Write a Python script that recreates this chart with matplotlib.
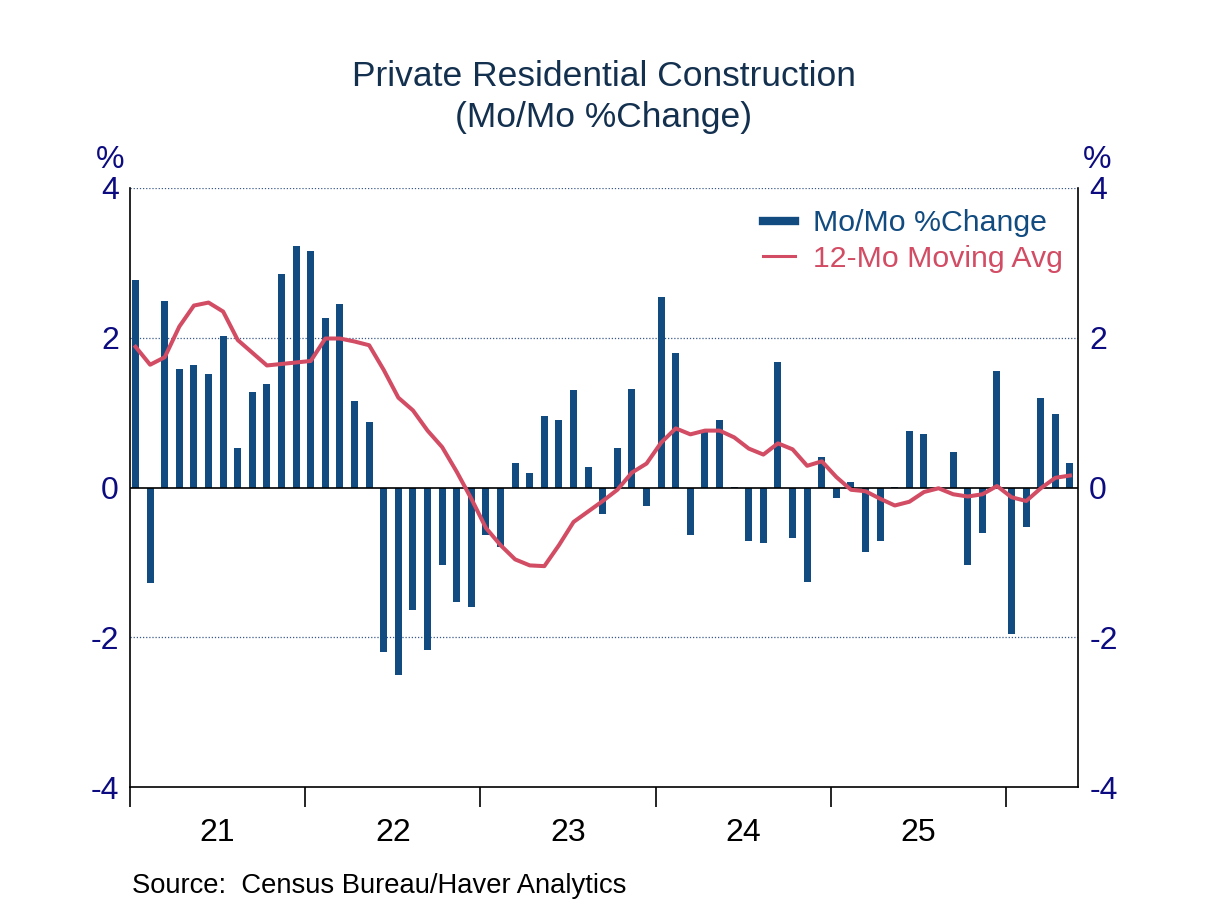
import matplotlib
matplotlib.use('Agg')
from matplotlib import pyplot as plt
from matplotlib.lines import Line2D
from matplotlib.ticker import FixedLocator, NullFormatter

plt.rcParams['font.family'] = ['Liberation Sans', 'DejaVu Sans']

# 月度数据: 2021年1月 - 2026年5月
mom_change = [
    2.77, -1.28, 2.49, 1.58, 1.63, 1.51, 2.03, 0.53, 1.27, 1.38, 2.85, 3.22,
    3.16, 2.27, 2.45, 1.16, 0.88, -2.19, -2.51, -1.63, -2.17, -1.04, -1.53, -1.60,
    -0.63, -0.79, 0.33, 0.20, 0.96, 0.90, 1.30, 0.27, -0.35, 0.53, 1.31, -0.25,
    2.54, 1.80, -0.63, 0.74, 0.90, 0.01, -0.71, -0.74, 1.67, -0.68, -1.26, 0.41,
    -0.14, 0.07, -0.86, -0.71, 0.01, 0.75, 0.72, 0.00, 0.47, -1.03, -0.61, 1.55,
    -1.95, -0.53, 1.19, 0.98, 0.33,
]
moving_avg = [
    1.88, 1.64, 1.74, 2.15, 2.43, 2.47, 2.35, 1.97, 1.80, 1.63, 1.65, 1.67,
    1.69, 1.99, 1.99, 1.95, 1.90, 1.57, 1.20, 1.03, 0.76, 0.54, 0.21, -0.15,
    -0.54, -0.77, -0.96, -1.04, -1.05, -0.77, -0.46, -0.32, -0.18, -0.03, 0.20, 0.32,
    0.60, 0.79, 0.71, 0.76, 0.76, 0.67, 0.52, 0.44, 0.59, 0.51, 0.29, 0.35,
    0.14, -0.03, -0.05, -0.15, -0.24, -0.19, -0.06, -0.01, -0.09, -0.12, -0.09, 0.02,
    -0.13, -0.18, -0.01, 0.13, 0.16,
]
year_labels = ['21', '22', '23', '24', '25']

navy = '#114b80'
red = '#d24c64'
label_col = '#0c0c80'

fig = plt.figure(figsize=(12.08, 9.06), dpi=100)
ax = fig.add_axes([0.1076, 0.1313, 0.7848, 0.6612])

x = list(range(len(mom_change)))
ax.bar(x, mom_change, width=0.48, color=navy, zorder=2)
ax.plot(x, moving_avg, color=red, lw=2.9, zorder=3)

ax.set_xlim(-0.38, 64.55)
ax.set_ylim(-4, 4)
ax.axhline(0, color='black', lw=1.2, zorder=2.5)
for yv in [4, 2, -2]:
    ax.axhline(yv, color='#3a5a8a', lw=0.9, ls=(0, (1, 1.5)), zorder=1)

# y轴
ax.set_yticks([-4, -2, 0, 2, 4])
ax.set_yticklabels(['-4', '-2', '0', '2', '4'])
ax.tick_params(axis='y', length=0, labelsize=23, labelcolor=label_col,
               left=True, right=True, labelleft=True, labelright=True, pad=8)

# x轴: 年份刻度
ticks = [12 * k - 0.38 for k in range(6)]
ax.xaxis.set_major_locator(FixedLocator(ticks))
ax.xaxis.set_major_formatter(NullFormatter())
ax.xaxis.set_minor_locator(FixedLocator([12 * k + 5.62 for k in range(5)]))
ax.set_xticklabels(year_labels, minor=True)
ax.tick_params(axis='x', which='major', length=14.5, width=1.2, direction='out')
ax.tick_params(axis='x', which='minor', length=0, labelsize=23, pad=22)

for s in ['left', 'right', 'bottom']:
    ax.spines[s].set_linewidth(1.2)
ax.spines['top'].set_visible(False)

fig.text(0.091, 0.807, '%', ha='center', va='bottom', fontsize=23, color=label_col)
fig.text(0.908, 0.807, '%', ha='center', va='bottom', fontsize=23, color=label_col)

fig.text(0.5, 0.916, 'Private Residential Construction', ha='center', va='center',
         fontsize=25.5, color='#14304f')
fig.text(0.5, 0.870, '(Mo/Mo %Change)', ha='center', va='center',
         fontsize=25.5, color='#14304f')

fig.text(0.109, 0.008, 'Source:  Census Bureau/Haver Analytics', ha='left', va='bottom',
         fontsize=19.7, color='black')

handles = [Line2D([], [], color=navy, lw=6), Line2D([], [], color=red, lw=2.2)]
leg = ax.legend(handles, ['Mo/Mo %Change', '12-Mo Moving Avg'], loc='upper right',
                bbox_to_anchor=(1.013, 1.01), frameon=False, fontsize=21.8,
                handlelength=1.05, handletextpad=0.6, labelspacing=0.25)
for txt, c in zip(leg.get_texts(), [navy, red]):
    txt.set_color(c)

fig.savefig('out.png', dpi=100)
